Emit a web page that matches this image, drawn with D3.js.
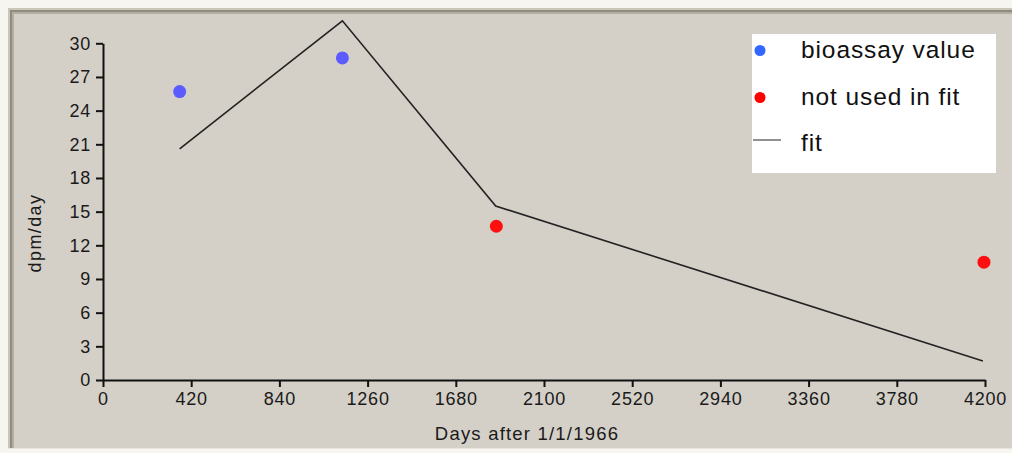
<!DOCTYPE html>
<html><head><meta charset="utf-8">
<script src="https://cdn.jsdelivr.net/npm/d3@7"></script>
<style>
html,body{margin:0;padding:0;background:#f6f5f0;}
svg{display:block;}
</style></head>
<body>
<svg id="c" width="1012" height="453"></svg>
<script>
// ---- data ----
const xTicks = [0,420,840,1260,1680,2100,2520,2940,3360,3780,4200];
const yTicks = [0,3,6,9,12,15,18,21,24,27,30];
const bioDays = [365, 1140];
const bioValues = [25.7, 28.7];
const notUsedDays = [1873, 4195];
const notUsedValues = [13.7, 10.5];
const fitDays = [365, 1140, 1870, 4190];
const fitValues = [20.6, 32.0, 15.5, 1.7];
const legendLabels = ["bioassay value", "not used in fit", "fit"];
const xTitle = "Days after 1/1/1966";
const yTitle = "dpm/day";

const svg = d3.select("#c");
const W = 1012, H = 453;

// panel background and frame
svg.append("rect").attr("x",0).attr("y",0).attr("width",W).attr("height",H).attr("fill","#f6f5f0");
svg.append("rect").attr("x",8).attr("y",8).attr("width",W-8).attr("height",440).attr("fill","#d4d0c8");
const frame = [["#c9c6b8",8],["#8f8d7e",10],["#b2afa2",12]];
frame.forEach(([c,o])=>{
  svg.append("line").attr("x1",o).attr("x2",W).attr("y1",o+1).attr("y2",o+1).attr("stroke",c).attr("stroke-width",2);
  svg.append("line").attr("x1",o+1).attr("x2",o+1).attr("y1",o).attr("y2",448).attr("stroke",c).attr("stroke-width",2);
});
svg.append("line").attr("x1",8).attr("x2",W).attr("y1",448.5).attr("y2",448.5).attr("stroke","#e8e6dc").attr("stroke-width",1);

const x = d3.scaleLinear().domain([0,4200]).range([103,985]);
const y = d3.scaleLinear().domain([0,30]).range([380,43.3]);

const font = "'Liberation Sans', Arial, sans-serif";

const xAxis = svg.append("g").attr("transform","translate(0,380)")
  .call(d3.axisBottom(x).tickValues(xTicks).tickSize(7).tickSizeOuter(0).tickPadding(5).tickFormat(d3.format("d")));
const yAxis = svg.append("g").attr("transform","translate(103,0)")
  .call(d3.axisLeft(y).tickValues(yTicks).tickSize(7).tickSizeOuter(0).tickPadding(5).tickFormat(d3.format("d")));
[xAxis,yAxis].forEach(a=>{
  a.select(".domain").attr("stroke","#111").attr("stroke-width",2);
  a.selectAll(".tick line").attr("stroke","#111").attr("stroke-width",2);
  a.selectAll(".tick text").attr("fill","#1a1a1a").style("font-family",font).style("font-size","18px").style("letter-spacing","0.8px");
});

svg.append("text").attr("x",527).attr("y",440).attr("text-anchor","middle")
  .style("font-family",font).style("font-size","18.5px").style("letter-spacing","1.2px").attr("fill","#1a1a1a").text(xTitle);
svg.append("text").attr("transform","translate(41,233) rotate(-90)").attr("text-anchor","middle")
  .style("font-family",font).style("font-size","18px").style("letter-spacing","1.4px").attr("fill","#1a1a1a").text(yTitle);

// fit line
const fit = fitDays.map((d,i)=>[d,fitValues[i]]);
svg.append("path").datum(fit)
  .attr("d", d3.line().x(d=>x(d[0])).y(d=>y(d[1])))
  .attr("fill","none").attr("stroke","#222").attr("stroke-width",1.6);

// points
svg.append("g").selectAll("circle").data(bioDays.map((d,i)=>[d,bioValues[i]])).join("circle")
  .attr("cx",d=>x(d[0])).attr("cy",d=>y(d[1])).attr("r",6.5).attr("fill","#5b5bff");
svg.append("g").selectAll("circle").data(notUsedDays.map((d,i)=>[d,notUsedValues[i]])).join("circle")
  .attr("cx",d=>x(d[0])).attr("cy",d=>y(d[1])).attr("r",6.5).attr("fill","#ff1010");

// legend
const lg = svg.append("g");
lg.append("rect").attr("x",752).attr("y",34).attr("width",244).attr("height",139).attr("fill","#ffffff");
lg.append("circle").attr("cx",760).attr("cy",50.5).attr("r",5.5).attr("fill","#3366ff");
lg.append("circle").attr("cx",760).attr("cy",97.5).attr("r",5.5).attr("fill","#ff0000");
lg.append("line").attr("x1",753).attr("x2",781).attr("y1",140).attr("y2",140).attr("stroke","#222").attr("stroke-width",1);
const ly = [58, 105, 151];
legendLabels.forEach((t,i)=>{
  lg.append("text").attr("x",801).attr("y",ly[i]).style("font-family",font).style("font-size","24.5px")
    .style("letter-spacing","0.9px").attr("fill","#111").text(t);
});
</script>
</body></html>
